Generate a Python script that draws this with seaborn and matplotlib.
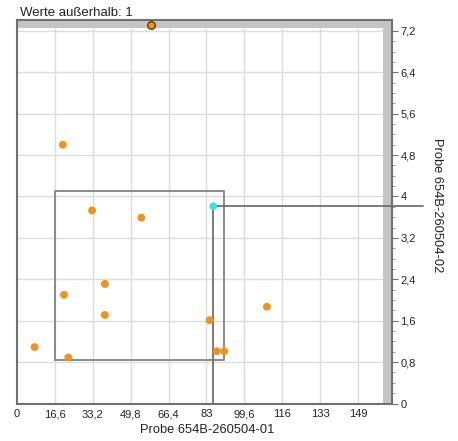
import numpy as np
import pandas as pd
import matplotlib
matplotlib.use("Agg")
import matplotlib.pyplot as plt
import seaborn as sns

# data
x_vals = [20.1, 32.9, 54.5, 20.6, 38.5, 38.5, 7.7, 22.5, 84.4, 87.5, 90.8, 109.5]
y_vals = [5.0, 3.73, 3.59, 2.10, 2.31, 1.71, 1.09, 0.89, 1.61, 1.01, 1.01, 1.87]
sel_x = [86.0]
sel_y = [3.81]
out_x = [58.7]
out_y = [7.31]
box_x = [16.8, 90.8]
box_y = [0.85, 4.10]
xticks = [0, 16.6, 33.2, 49.8, 66.4, 83.0, 99.6, 116.2, 132.8, 149.4]
xtick_labels = ["0", "16,6", "33,2", "49,8", "66,4", "83", "99,6", "116", "133", "149"]
yticks = [0, 0.8, 1.6, 2.4, 3.2, 4.0, 4.8, 5.6, 6.4, 7.2]
ytick_labels = ["0", "0,8", "1,6", "2,4", "3,2", "4", "4,8", "5,6", "6,4", "7,2"]
title = "Werte außerhalb: 1"
xlabel = "Probe 654B-260504-01"
ylabel = "Probe 654B-260504-02"

sns.set_style("white")
plt.rcParams['font.family'] = ['Liberation Sans', 'DejaVu Sans']

fig = plt.figure(figsize=(4.58, 4.41), dpi=100)
ax = fig.add_axes([17/458, 1 - 403.5/441, 375/458, 383.5/441])
XMAX, YMAX = 164.3, 7.41
ax.set_xlim(0, XMAX)
ax.set_ylim(0, YMAX)

# grid
for xv in xticks[1:]:
    ax.axvline(xv, color="#dcdcdc", lw=1.0, zorder=0)
for yv in yticks[1:]:
    ax.axhline(yv, color="#dcdcdc", lw=1.0, zorder=0)

# out-of-range bands
ax.axvspan(160.3, XMAX, color="#c4c4c4", lw=0, zorder=1)
ax.axhspan(7.26, YMAX, color="#c4c4c4", lw=0, zorder=1)

# selection box
ax.plot([box_x[0], box_x[1], box_x[1], box_x[0], box_x[0]],
        [box_y[0], box_y[0], box_y[1], box_y[1], box_y[0]],
        color="#8a8a8a", lw=1.4, zorder=2)

# crosshair for selected point
ax.plot([sel_x[0], sel_x[0]], [0, sel_y[0]], color="#707070", lw=1.3, zorder=2)
ax.plot([sel_x[0], 177.8], [sel_y[0], sel_y[0]], color="#707070", lw=1.3, zorder=2, clip_on=False)

df = pd.DataFrame({"x": x_vals, "y": y_vals})
sns.scatterplot(data=df, x="x", y="y", ax=ax, color="#f0921e", s=32, edgecolor="none", zorder=3)
sns.scatterplot(x=sel_x, y=sel_y, ax=ax, color="#33e3f0", s=30, edgecolor="none", zorder=4)
sns.scatterplot(x=out_x, y=out_y, ax=ax, color="#f0921e", s=30, edgecolor="#5a3a10", linewidth=1.0, zorder=4)

# spines
for side in ["left", "bottom", "top", "right"]:
    ax.spines[side].set_visible(True)
    ax.spines[side].set_color("#707070")
    ax.spines[side].set_linewidth(1.5)

ax.set_xticks(xticks)
ax.set_xticklabels(xtick_labels)
ax.set_yticks(yticks)
ax.set_yticklabels(ytick_labels)
ax.set_xticks(np.arange(0, 161, 4.15), minor=True)
ax.set_yticks(np.arange(0, 7.3, 0.2), minor=True)
ax.yaxis.tick_right()
ax.yaxis.set_label_position("right")
ax.tick_params(axis="both", which="major", length=4, width=0.8, color="#707070",
               labelsize=8, labelcolor="#222222", pad=2)
ax.tick_params(axis="both", which="minor", length=2, width=0.6, color="#909090")
ax.tick_params(axis="x", which="both", direction="inout")
ax.tick_params(axis="y", which="both", direction="out")

ax.set_xlabel(xlabel, fontsize=9.3, color="#222222", va="center")
ax.xaxis.set_label_coords((207 - 17) / 375, -(430 - 403.5) / 383.5)
ax.set_ylabel(ylabel, fontsize=9.3, color="#222222", rotation=-90, va="center")
ax.yaxis.set_label_coords((437 - 17) / 375, (403.5 - 205) / 383.5)

fig.text(20/458, 1 - 13/441, title, fontsize=9.5, color="#222222", va="center", ha="left")

fig.savefig("out.png", dpi=100)
